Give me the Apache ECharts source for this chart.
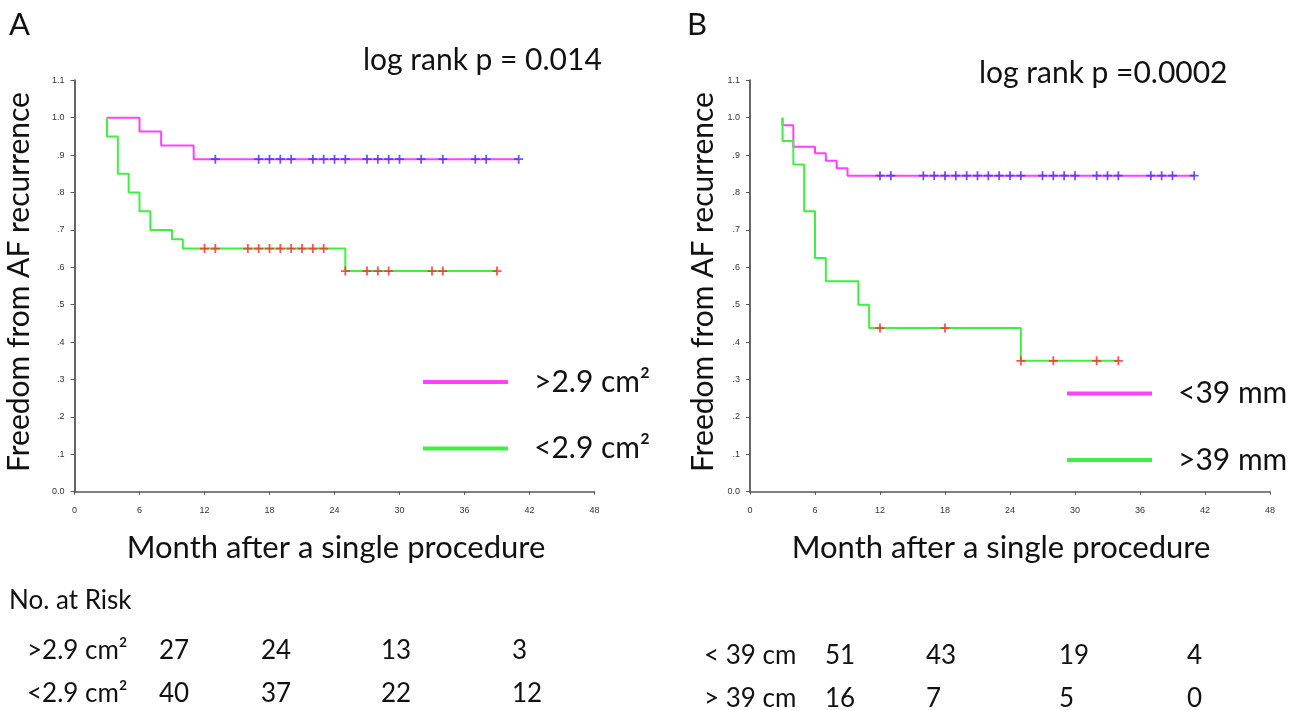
<!DOCTYPE html>
<html lang="en">
<head>
<meta charset="UTF-8">
<title>Freedom from AF recurrence</title>
<script src="https://cdn.jsdelivr.net/npm/echarts@6/dist/echarts.min.js"></script>
<style>html,body{margin:0;padding:0;background:#fff;}</style>
</head>
<body>
<div id="main" style="width:1301px;height:710px;"></div>
<script type="text/javascript">
// ---- panel A (LA area) ----
var aPinkMonths  = [3, 6, 8, 11, 41];
var aPinkSurv    = [1, 0.963, 0.926, 0.889, 0.889];
var aGreenMonths = [3, 3, 4, 5, 6, 7, 9, 10, 25, 39];
var aGreenSurv   = [1, 0.95, 0.85, 0.80, 0.75, 0.70, 0.675, 0.65, 0.59, 0.59];
var aPinkCensor  = [13, 17, 18, 19, 20, 22, 23, 24, 25, 27, 28, 29, 30, 32, 34, 37, 38, 41];
var aGreenCensor = [12, 13, 16, 17, 18, 19, 20, 21, 22, 23, 25, 27, 28, 29, 33, 34, 39];
var aNames = ['>2.9 cm²', '<2.9 cm²'];
var aRiskLabels = ['>2.9 cm²', '<2.9 cm²'];
var aRiskPink  = [27, 24, 13, 3];
var aRiskGreen = [40, 37, 22, 12];

// ---- panel B (LA diameter) ----
var bPinkMonths  = [3, 3, 4, 6, 7, 8, 9, 41];
var bPinkSurv    = [1, 0.98, 0.922, 0.905, 0.885, 0.865, 0.845, 0.845];
var bGreenMonths = [3, 3, 4, 5, 6, 7, 10, 11, 25, 34];
var bGreenSurv   = [1, 0.938, 0.875, 0.75, 0.625, 0.5625, 0.5, 0.4375, 0.35, 0.35];
var bPinkCensor  = [12, 13, 16, 17, 18, 19, 20, 21, 22, 23, 24, 25, 27, 28, 29, 30, 32, 33, 34, 37, 38, 39, 41];
var bGreenCensor = [12, 18, 25, 28, 32, 34];
var bNames = ['<39 mm', '>39 mm'];
var bRiskLabels = ['< 39 cm', '> 39 cm'];
var bRiskPink  = [51, 43, 19, 4];
var bRiskGreen = [16, 7, 5, 0];

var xTickStep = 6;
var yTickStep = 0.1;

var PINK = '#ff40ff', GREEN = '#40f040', BLUE = '#3535ff', RED = '#ff2828';
var FONT = 'Lato, "Open Sans", sans-serif';
var PLUS = 'path://M4,0H6V4H10V6H6V10H4V6H0V4H4Z';

function zip(xs, ys) {
    return xs.map(function (x, i) { return [x, ys[i]]; });
}
// a censor mark sits on the curve at its time
function onCurve(months, surv, list) {
    return list.map(function (t) {
        var v = surv[0];
        for (var i = 0; i < months.length; i++) {
            if (months[i] <= t) v = surv[i];
        }
        return [t, v];
    });
}

function yLab(v) {
    var n = Math.round(v * 10);
    if (n === 0) return '0.0';
    if (n >= 10) return (n / 10).toFixed(1);
    return '.' + n;
}

function makeX(idx) {
    return {
        gridIndex: idx, type: 'value', min: 0, max: 48, interval: xTickStep,
        axisLine: { lineStyle: { color: '#555', width: 1.5 } },
        axisTick: { length: 3, lineStyle: { color: '#555' } },
        axisLabel: { fontSize: 9, color: '#333', margin: 14, fontFamily: 'Liberation Sans' },
        splitLine: { show: false }
    };
}
function makeY(idx, gap) {
    return {
        gridIndex: idx, type: 'value', min: 0, max: 1.1, interval: yTickStep,
        name: 'Freedom from AF recurrence', nameLocation: 'middle', nameGap: gap,
        nameTextStyle: { fontSize: 30, color: '#111', fontFamily: FONT, padding: [0, 0, 0, 8] },
        axisLine: { show: true, lineStyle: { color: '#666', width: 2 } },
        axisTick: { show: true, length: 4, lineStyle: { color: '#555' } },
        axisLabel: { fontSize: 9, color: '#333', margin: 10, fontFamily: 'Liberation Sans', formatter: yLab },
        splitLine: { show: false }
    };
}
function curve(name, idx, months, surv, color) {
    return {
        name: name, type: 'line', step: 'end', xAxisIndex: idx, yAxisIndex: idx,
        data: zip(months, surv), showSymbol: false, symbol: 'none',
        lineStyle: { color: color, width: 2 }, itemStyle: { color: color }, z: 2
    };
}
function marks(idx, pts, color) {
    return {
        type: 'scatter', xAxisIndex: idx, yAxisIndex: idx, data: pts,
        symbol: PLUS, symbolSize: 9, itemStyle: { color: color }, z: 3, silent: true
    };
}
function txt(x, y, s, size, align) {
    return {
        type: 'text', x: x, y: y,
        style: { text: s, fontSize: size, fontFamily: FONT, fill: '#111', align: align || 'left', verticalAlign: 'middle' }
    };
}
function legendBox(left, top, names) {
    return {
        left: left, top: top, orient: 'vertical', itemGap: 36.5,
        itemWidth: 85, itemHeight: 4, icon: 'rect', data: names,
        textStyle: { fontSize: 30, fontFamily: FONT, color: '#111', lineHeight: 30, padding: [0, 0, 0, 21] }
    };
}

var myChart = echarts.init(document.getElementById('main'));

var graphics = [
    txt(9, 25, 'A', 31), txt(687, 25, 'B', 31),
    txt(363, 60, 'log rank p = 0.014', 30),
    txt(979, 73, 'log rank p =0.0002', 30),
    txt(336, 548, 'Month after a single procedure', 31, 'center'),
    txt(1001, 548, 'Month after a single procedure', 31, 'center'),
    txt(9, 601, 'No. at Risk', 26),
    txt(27, 651, aRiskLabels[0], 26), txt(27, 694, aRiskLabels[1], 26),
    txt(704, 656, bRiskLabels[0], 26), txt(704, 699, bRiskLabels[1], 26)
];
var aCols = [159, 261, 381, 512];
var bCols = [825, 926, 1059, 1187];
for (var i = 0; i < 4; i++) {
    graphics.push(txt(aCols[i], 651, String(aRiskPink[i]), 26));
    graphics.push(txt(aCols[i], 694, String(aRiskGreen[i]), 26));
    graphics.push(txt(bCols[i], 656, String(bRiskPink[i]), 26));
    graphics.push(txt(bCols[i], 699, String(bRiskGreen[i]), 26));
}

var option = {
    animation: false,
    backgroundColor: '#fff',
    grid: [
        { left: 74.5, top: 80.3, width: 520, height: 411.4, containLabel: false, outerBoundsMode: 'none' },
        { left: 750, top: 80.3, width: 520, height: 411.4, containLabel: false, outerBoundsMode: 'none' }
    ],
    xAxis: [makeX(0), makeX(1)],
    yAxis: [makeY(0, 40), makeY(1, 32)],
    legend: [legendBox(418, 362, aNames), legendBox(1062, 373.5, bNames)],
    series: [
        curve(aNames[0], 0, aPinkMonths, aPinkSurv, PINK),
        curve(aNames[1], 0, aGreenMonths, aGreenSurv, GREEN),
        marks(0, onCurve(aPinkMonths, aPinkSurv, aPinkCensor), BLUE),
        marks(0, onCurve(aGreenMonths, aGreenSurv, aGreenCensor), RED),
        curve(bNames[0], 1, bPinkMonths, bPinkSurv, PINK),
        curve(bNames[1], 1, bGreenMonths, bGreenSurv, GREEN),
        marks(1, onCurve(bPinkMonths, bPinkSurv, bPinkCensor), BLUE),
        marks(1, onCurve(bGreenMonths, bGreenSurv, bGreenCensor), RED)
    ],
    graphic: graphics
};
myChart.setOption(option);
</script>
</body>
</html>
